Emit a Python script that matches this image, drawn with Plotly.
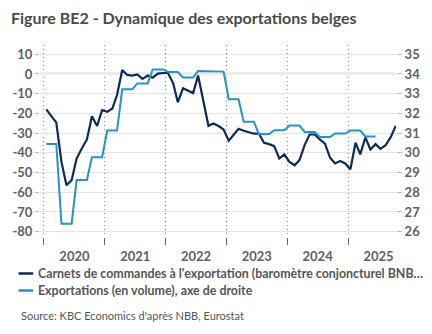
import plotly.graph_objects as go
import pandas as pd

# Monthly export order books (left axis), Jan 2020 - Oct 2025
order_books = [
    -18.0, -21.2, -24.7, -44.6, -56.4, -53.9, -42.9, -37.8, -33.2, -21.4, -26.4, -18.3,
    -19.2, -17.5, -10.7, 2.0, -0.5, -0.8, -0.2, -2.5, -0.8, -1.9, 0.2, 0.5,
    0.5, -4.7, -14.4, -7.3, -8.5, -9.7, -0.8, -13.2, -26.3, -25.1, -26.4, -28.2,
    -33.9, -30.7, -27.8, -28.8, -29.7, -30.3, -30.2, -34.9, -35.6, -36.6, -42.9, -40.8,
    -44.6, -46.3, -43.7, -36.1, -30.7, -30.7, -33.2, -35.3, -42.5, -45.4, -44.1, -45.4,
    -48.3, -34.9, -40.8, -32.2, -38.3, -35.6, -38.0, -36.1, -31.9, -26.3,
]
order_months = pd.date_range("2020-01-01", periods=len(order_books), freq="MS") + pd.Timedelta(days=14)

# Quarterly export volumes (right axis), Q1 2020 - Q2 2025
export_volume_q = [
    30.45, 26.40, 28.62, 29.78,
    31.13, 33.22, 33.52, 34.23,
    34.10, 33.82, 34.15, 34.12,
    32.72, 31.58, 30.95, 31.15,
    31.38, 31.06, 30.80, 30.98,
    31.13, 30.83,
]
# quarterly value shown on each month of its quarter
export_months = pd.date_range("2020-01-01", periods=len(export_volume_q) * 3, freq="MS") + pd.Timedelta(days=14)
export_volume = [v for v in export_volume_q for _ in range(3)]

names = [
    "Carnets de commandes à l'exportation (baromètre conjoncturel BNB…",
    "Exportations (en volume), axe de droite",
]
colors = ["#0e2a57", "#2892c3"]
left_ticks = [10, 0, -10, -20, -30, -40, -50, -60, -70, -80]
right_ticks = [35, 34, 33, 32, 31, 30, 29, 28, 27, 26]

FONT = "Lato"
tick_font = dict(family=FONT, size=13, color="#606060", weight="bold")

fig = go.Figure()
fig.add_trace(go.Scatter(x=export_months, y=export_volume, yaxis="y2", mode="lines",
                         line=dict(color=colors[1], width=2), name=names[1]))
fig.add_trace(go.Scatter(x=order_months, y=order_books, mode="lines",
                         line=dict(color=colors[0], width=2.2), name=names[0]))

fig.update_layout(
    width=432, height=334,
    margin=dict(l=32, r=35, t=45, b=97),
    paper_bgcolor="white", plot_bgcolor="white",
    showlegend=False,
    xaxis=dict(
        type="date", range=["2019-12-08", "2025-10-16"],
        tick0="2020-01-01", dtick="M12", tickformat="%Y", ticklabelmode="period",
        showgrid=True, gridcolor="#8a8a8a", griddash="1px,3px", gridwidth=1,
        ticks="outside", ticklen=7, tickcolor="#666666", tickwidth=1,
        tickfont=tick_font, showline=False, zeroline=False,
    ),
    yaxis=dict(
        range=[-82.7, 14.7], tickvals=left_ticks, ticktext=[str(v) for v in left_ticks],
        showgrid=True, gridcolor="#e4e4e4", gridwidth=1,
        zeroline=True, zerolinecolor="#ececec", zerolinewidth=3,
        ticks="outside", ticklen=4, tickcolor="#bbbbbb",
        tickfont=tick_font, showline=False,
    ),
    yaxis2=dict(
        range=[25.73, 35.47], overlaying="y", side="right",
        tickvals=right_ticks, ticktext=[str(v) for v in right_ticks],
        showgrid=False, zeroline=False,
        ticks="outside", ticklen=5, tickcolor="#bbbbbb",
        tickfont=tick_font, showline=False,
    ),
)

# Title
fig.add_annotation(text="Figure BE2 - Dynamique des exportations belges",
                   xref="paper", yref="paper", x=-32/365, y=1 + (45-17)/192,
                   xanchor="left", yanchor="middle", showarrow=False,
                   font=dict(family=FONT, size=16, color="#4a4a4a", weight="bold"))

# Manual legend
legend_rows_px = [273.5, 290.5]
for name, col, ypx in zip(names, colors, legend_rows_px):
    yp = (334 - 97 - ypx) / 192
    fig.add_shape(type="line", xref="paper", yref="paper",
                  x0=(10 - 32) / 365, x1=(25 - 32) / 365, y0=yp, y1=yp,
                  line=dict(color=col, width=2.5))
    fig.add_annotation(text=name, xref="paper", yref="paper",
                       x=(28 - 32) / 365, y=yp, xanchor="left", yanchor="middle",
                       showarrow=False,
                       font=dict(family=FONT, size=12.4, color="#555555", weight="bold"))

# Source
fig.add_annotation(text="Source: KBC Economics d'après NBB, Eurostat",
                   xref="paper", yref="paper", x=(10 - 32) / 365, y=(334 - 97 - 315) / 192,
                   xanchor="left", yanchor="middle", showarrow=False,
                   font=dict(family=FONT, size=11, color="#555555"))

fig.write_html("out.html")
